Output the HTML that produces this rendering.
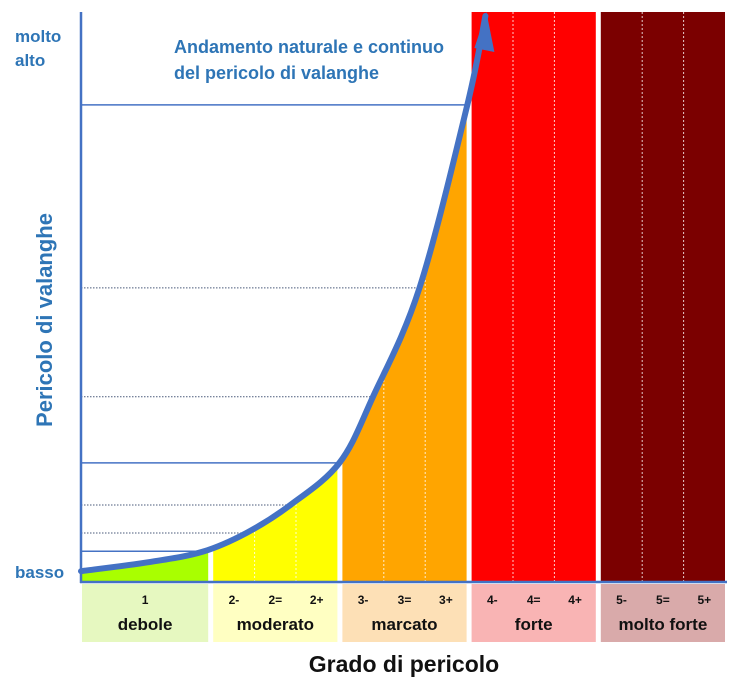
<!DOCTYPE html>
<html><head><meta charset="utf-8"><style>
html,body{margin:0;padding:0;background:#fff;}
svg{display:block;font-family:"Liberation Sans",sans-serif;}
</style></head><body>
<svg id="chart" width="737" height="677" viewBox="0 0 737 677">
<defs><clipPath id="under"><path id="underPath" d=""/></clipPath></defs>
<g id="cols"></g>
<g id="grid"></g>
<g id="curveG"></g>
<line x1="81" y1="12" x2="81" y2="583" stroke="#4472C4" stroke-width="2.5"/>
<line x1="80" y1="582" x2="727" y2="582" stroke="#4472C4" stroke-width="2.5"/>
<g id="boxes"></g>
<text x="15" y="42" font-size="17" font-weight="bold" fill="#2E75B6">molto</text>
<text x="15" y="66" font-size="17" font-weight="bold" fill="#2E75B6">alto</text>
<text x="15" y="578" font-size="17" font-weight="bold" fill="#2E75B6">basso</text>
<text transform="translate(52,320) rotate(-90)" text-anchor="middle" font-size="22" font-weight="bold" fill="#2E75B6">Pericolo di valanghe</text>
<text x="174" y="53" font-size="18" font-weight="bold" fill="#2E75B6">Andamento naturale e continuo</text>
<text x="174" y="79" font-size="18" font-weight="bold" fill="#2E75B6">del pericolo di valanghe</text>
<text x="404" y="672" text-anchor="middle" font-size="23" font-weight="bold" fill="#111">Grado di pericolo</text>
</svg>
<script>
const levelNames = ["debole","moderato","marcato","forte","molto forte"];
const subLabels = [["1"],["2-","2=","2+"],["3-","3=","3+"],["4-","4=","4+"],["5-","5=","5+"]];
const colColors = ["#A9FF00","#FFFF00","#FFA500","#FF0000","#7B0000"];
const boxColors = ["#E6F8C0","#FFFFC2","#FDE0B6","#F9B4B4","#D9AAAA"];
const fullHeight = [false,false,false,true,true];
// curve: x in grade units (0..5), y in danger 0..100
const curveX = [0.0,0.53,0.94,1.28,1.62,2.0,2.26,2.62,2.99,3.13];
const curveY = [1.9,3.5,5.3,8.6,13.5,20.9,32.5,51.6,83.7,99.3];
const solidLevels = [5.4,20.9,83.7];
const dottedLevels = [8.6,13.5,32.5,51.6];
const svg = document.getElementById('chart');
const NS = "http://www.w3.org/2000/svg";
const x0 = 81, colW = 129.2, y0 = 582, yTop = 12;
const sx = g => x0 + g*colW;
const sy = v => y0 - v/100*(y0-yTop);
function mk(t, a, parent){const e=document.createElementNS(NS,t);for(const k in a)e.setAttribute(k,a[k]);parent.appendChild(e);return e;}
const P = curveX.map((g,i)=>[sx(g),sy(curveY[i])]);
let d = "M"+P[0][0]+","+P[0][1];
for(let i=0;i<P.length-1;i++){
  const p0=P[Math.max(i-1,0)],p1=P[i],p2=P[i+1],p3=P[Math.min(i+2,P.length-1)];
  const c1=[p1[0]+(p2[0]-p0[0])/6,p1[1]+(p2[1]-p0[1])/6];
  const c2=[p2[0]-(p3[0]-p1[0])/6,p2[1]-(p3[1]-p1[1])/6];
  d+=` C${c1[0]},${c1[1]} ${c2[0]},${c2[1]} ${p2[0]},${p2[1]}`;
}
const lastP = P[P.length-1];
document.getElementById('underPath').setAttribute('d', d+` L${lastP[0]},${y0} L${P[0][0]},${y0} Z`);
const cols = document.getElementById('cols');
const boxes = document.getElementById('boxes');
levelNames.forEach((n,i)=>{
  const xl = sx(i)+(i?3:1), xr = sx(i+1)-2;
  const r = mk('rect',{x:xl,y:yTop,width:xr-xl,height:y0-yTop,fill:colColors[i]},cols);
  
  
  if(!fullHeight[i]) r.setAttribute('clip-path','url(#under)');
  const subs = subLabels[i];
  if(subs.length>1){
    for(let k=1;k<3;k++){
      const lx = xl+(xr-xl)*k/3;
      const l = mk('line',{x1:lx,y1:yTop,x2:lx,y2:y0,stroke:'#fff','stroke-width':1,'stroke-dasharray':'2,2',opacity:0.8},cols);
      if(!fullHeight[i]) l.setAttribute('clip-path','url(#under)');
      
      
      const bl = mk('line',{x1:lx,y1:588,x2:lx,y2:612,stroke:'#ccc','stroke-width':1,'stroke-dasharray':'2,2'},boxes);
      
      
    }
  }
  const b = mk('rect',{x:xl,y:584,width:xr-xl,height:58,fill:boxColors[i]},boxes);
  
  
  subs.forEach((s,k)=>{
    const cx = subs.length===1 ? (xl+xr)/2 : xl+(xr-xl)*(k*2+1)/6;
    const t = mk('text',{x:cx,y:604,'text-anchor':'middle','font-size':12,'font-weight':'bold',fill:'#111'},boxes);
    t.textContent=s;
    
    
  });
  const t = mk('text',{x:(xl+xr)/2,y:630,'text-anchor':'middle','font-size':17,'font-weight':'bold',fill:'#111'},boxes);
  t.textContent=n;
  
  
});
const grid = document.getElementById('grid');
function xAt(v){for(let i=1;i<curveY.length;i++){if(curveY[i]>=v){const f=(v-curveY[i-1])/(curveY[i]-curveY[i-1]);return sx(curveX[i-1]+f*(curveX[i]-curveX[i-1]));}}return sx(curveX[curveX.length-1]);}
solidLevels.forEach(v=>{
  const l=mk('line',{x1:x0,y1:sy(v),x2:xAt(v),y2:sy(v),stroke:'#4472C4','stroke-width':1.5},grid);
  
  
});
dottedLevels.forEach(v=>{
  const l=mk('line',{x1:x0,y1:sy(v),x2:xAt(v),y2:sy(v),stroke:'#4a5a7a','stroke-width':1,'stroke-dasharray':'1.5,1.5'},grid);
  
  
});
const cg = document.getElementById('curveG');
const c = mk('path',{d:d,fill:'none',stroke:'#4472C4','stroke-width':6,'stroke-linecap':'round'},cg);


const tip = [lastP[0]+1, yTop];
const a = mk('polygon',{points:`${tip[0]},${tip[1]} ${tip[0]+8},${tip[1]+40} ${tip[0]-12},${tip[1]+36}`,fill:'#4472C4'},cg);


</script>
</body></html>
